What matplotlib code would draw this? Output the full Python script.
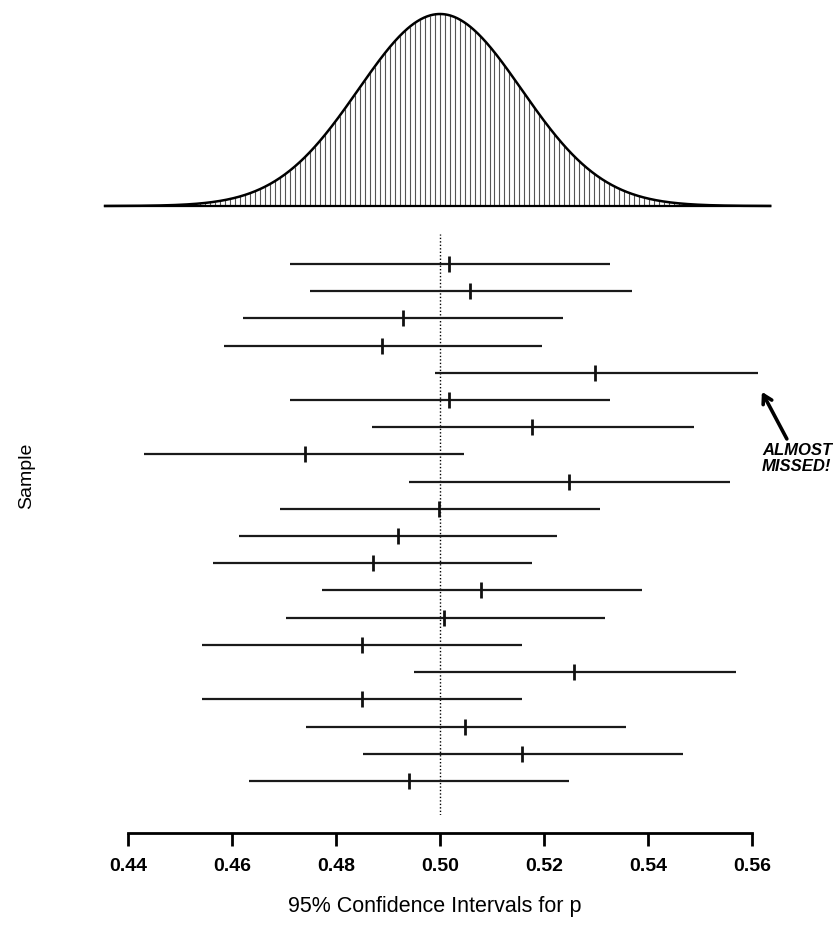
import numpy as np
import matplotlib
matplotlib.use("Agg")
import matplotlib.pyplot as plt

# ---- data ----
samples = list(range(1, 21))
phat = [0.5017, 0.5058, 0.4929, 0.4888, 0.5298, 0.5017, 0.5177, 0.4740, 0.5248, 0.4998,
        0.4919, 0.4871, 0.5079, 0.5008, 0.4850, 0.5258, 0.4850, 0.5048, 0.5158, 0.4940]
lower = [0.4712, 0.4750, 0.4621, 0.4585, 0.4990, 0.4712, 0.4870, 0.4431, 0.4940, 0.4692,
         0.4613, 0.4563, 0.4773, 0.4703, 0.4542, 0.4950, 0.4542, 0.4742, 0.4852, 0.4633]
upper = [0.5327, 0.5370, 0.5237, 0.5196, 0.5612, 0.5327, 0.5488, 0.5046, 0.5558, 0.5308,
         0.5225, 0.5177, 0.5388, 0.5318, 0.5158, 0.5569, 0.5158, 0.5358, 0.5468, 0.5248]
p_true = 0.50
sd = 0.0157
curve_range = (0.4356, 0.5635)
tick_values = [0.44, 0.46, 0.48, 0.50, 0.52, 0.54, 0.56]
tick_labels = ["0.44", "0.46", "0.48", "0.50", "0.52", "0.54", "0.56"]

W, H = 833, 929
fig = plt.figure(figsize=(W / 100, H / 100), dpi=100)
plt.rcParams['font.family'] = ['Liberation Sans', 'DejaVu Sans']

xlim = (0.5 - 440 / 5200, 0.5 + 393 / 5200)

def rows(top, bottom):
    return [0, (H - bottom) / H, 1, (bottom - top) / H]

# ---- sampling distribution curve ----
axc = fig.add_axes(rows(15, 207))
axc.set_xlim(*xlim)
xs = np.linspace(curve_range[0], curve_range[1], 800)
pdf = np.exp(-0.5 * ((xs - p_true) / sd) ** 2)
axc.set_ylim(0, 1)
hx = np.arange(curve_range[0], curve_range[1], 0.00096)
hy = np.exp(-0.5 * ((hx - p_true) / sd) ** 2)
axc.vlines(hx, 0, hy, color="#555555", lw=0.8)
axc.plot(xs, pdf, color="black", lw=1.8, clip_on=False)
axc.plot(curve_range, [0, 0], color="black", lw=1.6, clip_on=False)
axc.axis("off")

# ---- confidence intervals ----
ax = fig.add_axes(rows(235, 816))
ax.set_xlim(*xlim)
ax.set_ylim(21.25, -0.10)
ax.axvline(p_true, color="black", lw=1.0, ls=(0, (1, 1.5)))
ax.hlines(samples, lower, upper, color="#1a1a1a", lw=1.6)
ax.plot(phat, samples, ls="none", marker="|", ms=12, mew=2.0, color="#111111")

for s in ["top", "right", "left"]:
    ax.spines[s].set_visible(False)
ax.spines["bottom"].set_position(("outward", 13))
ax.spines["bottom"].set_bounds(tick_values[0], tick_values[-1])
ax.spines["bottom"].set_linewidth(2.0)
ax.set_yticks([])
ax.set_xticks(tick_values)
ax.set_xticklabels(tick_labels, fontsize=14, fontweight="bold")
ax.tick_params(axis="x", direction="out", length=9, width=2.0, pad=8)

fig.text(435 / W, 1 - 907 / H, "95% Confidence Intervals for p", fontsize=15.5,
         ha="center", va="center")
fig.text(27 / W, 1 - 476 / H, "Sample", fontsize=14, rotation=90,
         ha="center", va="center")

# ---- annotation ----
ax.annotate("", xy=(0.5619, 5.70), xytext=(0.5667, 7.43),
            arrowprops=dict(arrowstyle="->,head_length=0.6,head_width=0.35",
                            lw=2.6, color="black", shrinkA=0, shrinkB=0),
            annotation_clip=False)
ax.text(0.5619, 7.55, "ALMOST\nMISSED!", fontsize=12, fontweight="bold",
        fontstyle="italic", ha="left", va="top", linespacing=1.05, clip_on=False)

fig.savefig("out.png", dpi=100)
